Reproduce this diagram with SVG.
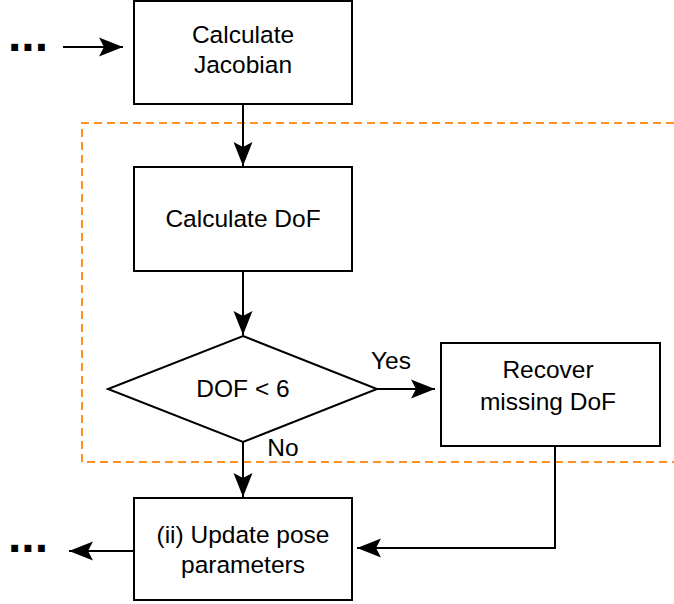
<svg xmlns="http://www.w3.org/2000/svg" width="674" height="604" viewBox="0 0 674 604">
<style>
.box{fill:#fff;stroke:#000;stroke-width:2}
.t{font-family:"Liberation Sans",Arial,sans-serif;font-size:24.5px;fill:#000;text-anchor:middle}
.dots{font-family:"Liberation Sans",Arial,sans-serif;font-size:48px;font-weight:bold;fill:#000}
.ln{fill:none;stroke:#000;stroke-width:2}
.dash{fill:none;stroke:#ff9120;stroke-width:2;stroke-dasharray:8 5}
</style>
<defs>
<marker id="ah" markerUnits="userSpaceOnUse" viewBox="-26 -11 27 22" refX="0" refY="0" markerWidth="27" markerHeight="22" orient="auto">
<path d="M0,0 L-24,-9.5 L-19,0 L-24,9.5 Z" fill="#000"/>
</marker>
</defs>
<g id="group-frame">
<path class="dash" d="M674,123 H82 V462 H674"/>
</g>
<g id="connectors">
<path class="ln" d="M63,47 H123" marker-end="url(#ah)"/>
<path class="ln" d="M243,104 V166" marker-end="url(#ah)"/>
<path class="ln" d="M243,271 V335" marker-end="url(#ah)"/>
<path class="ln" d="M377,389 H435" marker-end="url(#ah)"/>
<path class="ln" d="M243,442 V497" marker-end="url(#ah)"/>
<path class="ln" d="M555,446 V548 H357" marker-end="url(#ah)"/>
<path class="ln" d="M133,551 H69" marker-end="url(#ah)"/>
<text class="t" x="391" y="369">Yes</text>
<text class="t" x="283" y="456">No</text>
</g>
<g id="dots-in"><text class="dots" x="8" y="51">...</text></g>
<g id="dots-out"><text class="dots" x="8" y="552">...</text></g>
<g id="calc-jacobian">
<rect class="box" x="134" y="1" width="218" height="103"/>
<text class="t" x="243" y="43">Calculate</text>
<text class="t" x="243" y="73">Jacobian</text>
</g>
<g id="calc-dof">
<rect class="box" x="134" y="167" width="218" height="104"/>
<text class="t" x="243" y="227">Calculate DoF</text>
</g>
<g id="dof-check">
<polygon class="box" points="243,336 377,389 243,442 108,389"/>
<text class="t" x="243" y="397">DOF &lt; 6</text>
</g>
<g id="recover-dof">
<rect class="box" x="441" y="343" width="219" height="103"/>
<text class="t" x="548" y="378">Recover</text>
<text class="t" x="548" y="410">missing DoF</text>
</g>
<g id="update-pose">
<rect class="box" x="134" y="498" width="218" height="102"/>
<text class="t" x="243" y="543">(ii) Update pose</text>
<text class="t" x="243" y="573">parameters</text>
</g>
</svg>
